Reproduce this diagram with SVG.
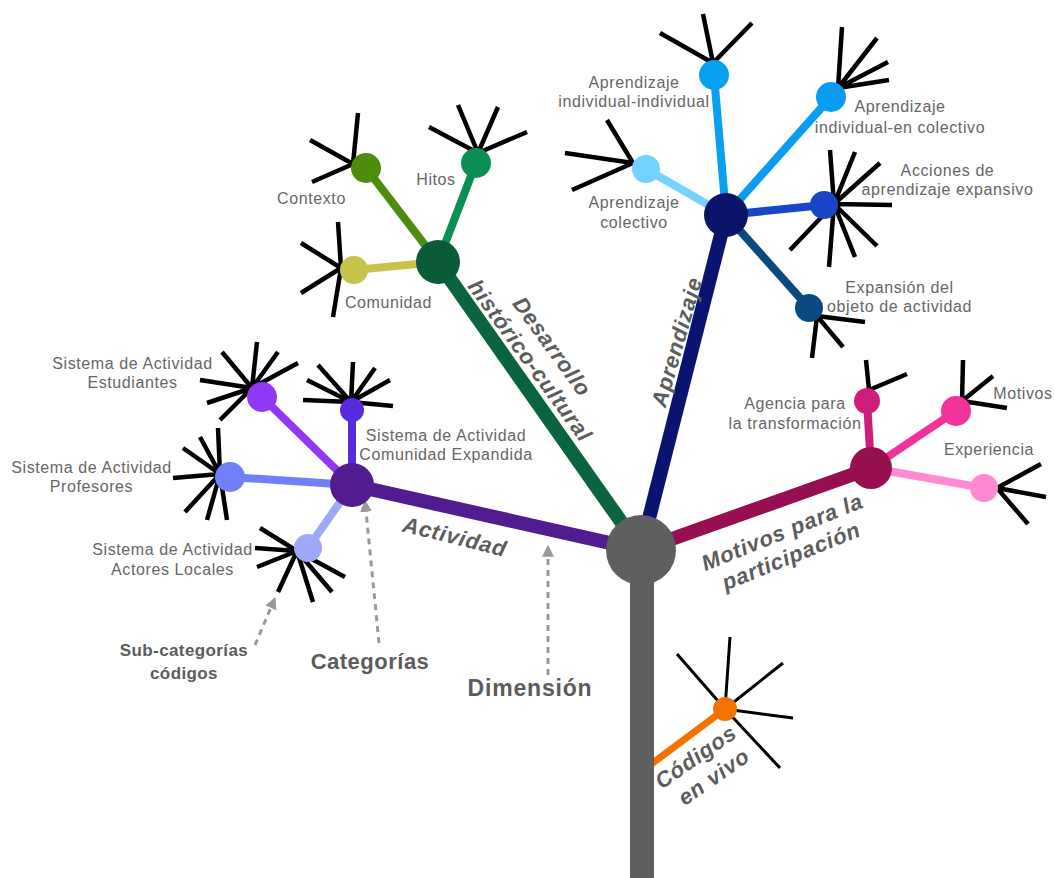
<svg xmlns="http://www.w3.org/2000/svg" width="1054" height="878" viewBox="0 0 1054 878">
<defs>
<style>
.lbl{font-family:"Liberation Sans",Arial,sans-serif;font-size:16px;fill:#666;letter-spacing:0.6px;text-anchor:middle}
.big{font-family:"Liberation Sans",Arial,sans-serif;font-weight:bold;fill:#5c5c5c;text-anchor:middle}
.dim{font-family:"Liberation Sans",Arial,sans-serif;font-weight:bold;font-style:italic;font-size:22px;fill:#5c5c5c;text-anchor:middle;letter-spacing:0.8px}
.sp{stroke:#000;stroke-width:4.5;stroke-linecap:butt;fill:none}
.sp2{stroke:#000;stroke-width:3;fill:none}
.main{stroke-width:14;fill:none}
.sub{stroke-width:8;fill:none}
.dash{stroke:#999;stroke-width:3;stroke-dasharray:6 5;fill:none}
</style>
<marker id="ah" viewBox="0 0 10 10" refX="9" refY="5" markerWidth="4" markerHeight="4" orient="auto" markerUnits="strokeWidth">
<path d="M0,0 L10,5 L0,10 z" fill="#999"/>
</marker>
</defs>
<rect width="1054" height="878" fill="#fff"/>

<g id="connectors">
<!-- main branches -->
<line class="main" stroke="#0b6440" x1="641" y1="550" x2="438" y2="262"/>
<line class="main" stroke="#0a1470" x1="641" y1="550" x2="726" y2="215"/>
<line class="main" stroke="#521b90" x1="641" y1="550" x2="352" y2="485"/>
<line class="main" stroke="#960f50" stroke-width="15" x1="641" y1="550" x2="871" y2="468"/>
<line stroke="#f47200" stroke-width="7" x1="642" y1="771" x2="725" y2="709"/>
<!-- green subs -->
<line class="sub" stroke="#4d8c0e" x1="438" y1="262" x2="366" y2="168"/>
<line class="sub" stroke="#0b8f55" x1="438" y1="262" x2="476" y2="163"/>
<line class="sub" stroke="#c7c34a" x1="438" y1="262" x2="354" y2="270"/>
<!-- navy subs -->
<line class="sub" stroke="#0aa0f0" x1="726" y1="215" x2="714" y2="75"/>
<line class="sub" stroke="#0a9cf5" x1="726" y1="215" x2="831" y2="97"/>
<line class="sub" stroke="#74d2ff" x1="726" y1="215" x2="646" y2="169"/>
<line class="sub" stroke="#1846c6" x1="726" y1="215" x2="824" y2="205"/>
<line class="sub" stroke="#0a4a80" x1="726" y1="215" x2="809" y2="308"/>
<!-- purple subs -->
<line class="sub" stroke="#9238f5" x1="352" y1="485" x2="262" y2="397"/>
<line class="sub" stroke="#5a2ae0" x1="352" y1="485" x2="352" y2="410"/>
<line class="sub" stroke="#7080fa" x1="352" y1="485" x2="230" y2="477"/>
<line class="sub" stroke="#a0a8fa" x1="352" y1="485" x2="308" y2="548"/>
<!-- maroon subs -->
<line class="sub" stroke="#d01d7c" x1="871" y1="468" x2="867" y2="401"/>
<line class="sub" stroke="#f0329a" x1="871" y1="468" x2="956" y2="411"/>
<line class="sub" stroke="#ff8ad2" x1="871" y1="468" x2="984" y2="488"/>
<!-- dashed pointer arrows -->
<line class="dash" x1="255" y1="645" x2="275" y2="598" marker-end="url(#ah)"/>
<line class="dash" x1="379" y1="643" x2="365" y2="501" marker-end="url(#ah)"/>
<line class="dash" x1="548" y1="675" x2="548" y2="546" marker-end="url(#ah)"/>
</g>

<g id="trunk">
<rect x="630" y="550" width="24" height="328" fill="#5f5f5f"/>
<circle cx="641" cy="550" r="35" fill="#5f5f5f"/>
</g>

<g id="dim-historico">
<circle cx="438" cy="262" r="22" fill="#0b5a38"/>
<g transform="translate(546,351) rotate(54)"><text class="dim">Desarrollo</text></g>
<g transform="translate(524,365) rotate(54)"><text class="dim">histórico-cultural</text></g>
</g>
<g id="contexto">
<path class="sp" d="M353,164 L358,113 M353,164 L310,140 M353,164 L312,182"/>
<circle cx="366" cy="168" r="15" fill="#4d8c0e"/>
<text class="lbl" x="311.5" y="203.5">Contexto</text>
</g>
<g id="hitos">
<path class="sp" d="M478,153 L458,105 M478,153 L498,107 M478,153 L429,127 M478,153 L527,132"/>
<circle cx="476" cy="163" r="15" fill="#0b8f55"/>
<text class="lbl" x="436" y="184.5">Hitos</text>
</g>
<g id="comunidad">
<path class="sp" d="M341,268 L338,222 M341,268 L301,243 M341,268 L301,293 M341,268 L333,317"/>
<circle cx="354" cy="270" r="14" fill="#c7c34a"/>
<text class="lbl" x="388.5" y="307.5">Comunidad</text>
</g>

<g id="dim-aprendizaje">
<circle cx="726" cy="215" r="22" fill="#0a1468"/>
<g transform="translate(684,344) rotate(-74)"><text class="dim" letter-spacing="0">Aprendizaje</text></g>
</g>
<g id="ind-ind">
<path class="sp" d="M713,63 L660,33 M713,63 L703,14 M713,63 L752,23"/>
<circle cx="714" cy="75" r="15" fill="#0aa0f0"/>
<text class="lbl" x="634" y="87.5">Aprendizaje</text>
<text class="lbl" x="634" y="106.5">individual-individual</text>
</g>
<g id="ind-col">
<path class="sp" d="M838,88 L842,27 M838,88 L877,38 M838,88 L888,62 M838,88 L889,80"/>
<circle cx="831" cy="97" r="15" fill="#0a9cf5"/>
<text class="lbl" x="900" y="111.5">Aprendizaje</text>
<text class="lbl" x="900" y="132.5">individual-en colectivo</text>
</g>
<g id="colectivo">
<path class="sp" d="M633,163 L607,120 M633,163 L565,153 M633,163 L572,190"/>
<circle cx="646" cy="169" r="14" fill="#74d2ff"/>
<text class="lbl" x="634" y="207.5">Aprendizaje</text>
<text class="lbl" x="634" y="227.5">colectivo</text>
</g>
<g id="acciones">
<path class="sp" d="M834,204 L830,150 M834,204 L855,152 M834,204 L880,163 M834,204 L892,205 M834,204 L877,246 M834,204 L855,257 M834,204 L829,267 M834,204 L790,250"/>
<circle cx="824" cy="205" r="14" fill="#1846c6"/>
<text class="lbl" x="947.5" y="175.5">Acciones de</text>
<text class="lbl" x="947.5" y="194.5">aprendizaje expansivo</text>
</g>
<g id="expansion">
<path class="sp" d="M817,316 L865,322 M817,316 L843,347 M817,316 L812,358"/>
<circle cx="809" cy="308" r="14" fill="#0a4a80"/>
<text class="lbl" x="899.5" y="292.5">Expansión del</text>
<text class="lbl" x="899.5" y="311.5">objeto de actividad</text>
</g>

<g id="dim-actividad">
<circle cx="352" cy="485" r="22" fill="#521b90"/>
<g transform="translate(453,544) rotate(14)"><text class="dim">Actividad</text></g>
</g>
<g id="estudiantes">
<path class="sp" d="M252,388 L257,342 M252,388 L222,352 M252,388 L278,352 M252,388 L298,363 M252,388 L200,380 M252,388 L207,403 M252,388 L220,420"/>
<circle cx="262" cy="397" r="15" fill="#9238f5"/>
<text class="lbl" x="132.5" y="368.5">Sistema de Actividad</text>
<text class="lbl" x="132.5" y="387.5">Estudiantes</text>
</g>
<g id="comunidad-expandida">
<path class="sp" d="M351,402 L318,365 M351,402 L353,362 M351,402 L307,380 M351,402 L303,400 M351,402 L390,380 M351,402 L393,406 M351,402 L375,368"/>
<circle cx="352" cy="410" r="12" fill="#5a2ae0"/>
<text class="lbl" x="446" y="440.5">Sistema de Actividad</text>
<text class="lbl" x="446" y="459.5">Comunidad Expandida</text>
</g>
<g id="profesores">
<path class="sp" d="M220,474 L183,448 M220,474 L200,437 M220,474 L218,428 M220,474 L173,478 M220,474 L185,512 M220,474 L207,520 M220,474 L227,520"/>
<circle cx="230" cy="477" r="15" fill="#7080fa"/>
<text class="lbl" x="91.5" y="472.5">Sistema de Actividad</text>
<text class="lbl" x="91.5" y="491.5">Profesores</text>
</g>
<g id="actores">
<path class="sp" d="M297,551 L260,528 M297,551 L255,548 M297,551 L257,567 M297,551 L278,592 M297,551 L313,602 M297,551 L332,592 M297,551 L345,577"/>
<circle cx="308" cy="548" r="14" fill="#a0a8fa"/>
<text class="lbl" x="172.5" y="554.5">Sistema de Actividad</text>
<text class="lbl" x="172.5" y="574.5">Actores Locales</text>
</g>

<g id="dim-motivos">
<circle cx="871" cy="468" r="21" fill="#961050"/>
<g transform="translate(785,539) rotate(-22)"><text class="dim" letter-spacing="0">Motivos para la</text></g>
<g transform="translate(794,563) rotate(-22)"><text class="dim" letter-spacing="0">participación</text></g>
</g>
<g id="agencia">
<path class="sp" d="M869,390 L866,360 M869,390 L907,374"/>
<circle cx="867" cy="401" r="13" fill="#d01d7c"/>
<text class="lbl" x="795" y="408.5">Agencia para</text>
<text class="lbl" x="795" y="428.5">la transformación</text>
</g>
<g id="motivos">
<path class="sp" d="M962,401 L963,360 M962,401 L993,376 M962,401 L1007,408"/>
<circle cx="956" cy="411" r="15" fill="#f0329a"/>
<text class="lbl" x="1023" y="398.5">Motivos</text>
</g>
<g id="experiencia">
<path class="sp" d="M997,488 L1041,464 M997,488 L1046,497 M997,488 L1028,524"/>
<circle cx="984" cy="488" r="14" fill="#ff8ad2"/>
<text class="lbl" x="989" y="454.5">Experiencia</text>
</g>

<g id="codigos">
<path class="sp2" d="M725,709 L677,654 M725,709 L730,637 M725,709 L783,663 M725,709 L793,718 M725,709 L780,768"/>
<circle cx="725" cy="709" r="12" fill="#f47200"/>
<g transform="translate(700,763) rotate(-35)"><text class="dim" font-size="21" letter-spacing="0.5">Códigos</text></g>
<g transform="translate(718,783) rotate(-35)"><text class="dim" font-size="21" letter-spacing="0.5">en vivo</text></g>
</g>

<g id="legend">
<text class="big" x="184" y="656" font-size="17" letter-spacing="0.4">Sub-categorías</text>
<text class="big" x="184" y="679" font-size="17" letter-spacing="0.4">códigos</text>
<text class="big" x="370" y="669" font-size="22" letter-spacing="0.5">Categorías</text>
<text class="big" x="530" y="696" font-size="23" letter-spacing="0.8">Dimensión</text>
</g>
</svg>
